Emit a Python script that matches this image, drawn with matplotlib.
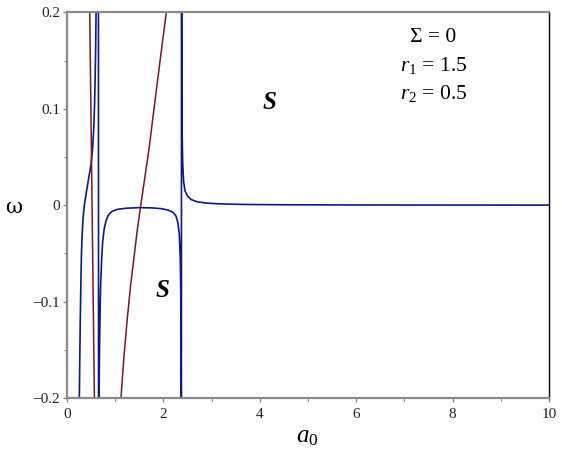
import matplotlib
matplotlib.use("Agg")
import matplotlib.pyplot as plt
import numpy as np

plt.rcParams['font.family'] = ['Liberation Serif', 'DejaVu Serif']
plt.rcParams['mathtext.fontset'] = 'custom'
plt.rcParams['mathtext.rm'] = 'Liberation Serif'
plt.rcParams['mathtext.it'] = 'Liberation Serif:italic'
plt.rcParams['mathtext.bf'] = 'Liberation Serif:bold'

# ---- data ----
# blue branch: left rising curve -> pole near a0=0.655 -> inverted U -> pole near 2.375 -> decaying tail
blueA_a = [0.256, 0.265, 0.275, 0.288, 0.30, 0.315, 0.335, 0.36, 0.40, 0.45, 0.50,
           0.53, 0.555, 0.572, 0.585, 0.595, 0.603, 0.62, 0.652]
blueA_w = [-0.2, -0.16, -0.12, -0.08, -0.05, -0.03, -0.012, 0.0, 0.013, 0.028, 0.043,
           0.058, 0.08, 0.105, 0.135, 0.165, 0.2, 0.3, 0.3]
blueB_a = [0.655, 0.665, 0.672, 0.68, 0.69, 0.70, 0.72, 0.74, 0.77, 0.81, 0.86, 0.93,
           1.05, 1.25, 1.5, 1.75, 1.95, 2.1, 2.2, 2.26, 2.30, 2.33, 2.35, 2.36, 2.366,
           2.37, 2.373]
blueB_w = [-0.3, -0.2, -0.16, -0.13, -0.1, -0.08, -0.055, -0.038, -0.025, -0.016,
           -0.010, -0.0065, -0.0042, -0.003, -0.0025, -0.0027, -0.0035, -0.005, -0.0075,
           -0.011, -0.018, -0.03, -0.055, -0.09, -0.14, -0.2, -0.3]
blueC_a = [2.376, 2.381, 2.385, 2.39, 2.40, 2.42, 2.45, 2.5, 2.58, 2.7, 2.9, 3.2, 3.7,
           4.5, 6.0, 8.0, 10.0]
blueC_w = [0.3, 0.2, 0.11, 0.073, 0.044, 0.024, 0.0147, 0.0095, 0.0058, 0.0036, 0.0022,
           0.0014, 0.0008, 0.0005, 0.0003, 0.0002, 0.00015]
# red branches
red1_a = [0.472, 0.52, 0.568]
red1_w = [0.2, 0.0, -0.2]
red2_a = [1.12, 1.18, 1.25, 1.32, 1.40, 1.46, 1.53, 1.61, 1.70, 1.79, 1.88, 1.97, 2.06]
red2_w = [-0.2, -0.158, -0.118, -0.083, -0.05, -0.025, 0.0, 0.027, 0.058, 0.094, 0.13,
          0.165, 0.2]

x_ticks = [0, 2, 4, 6, 8, 10]
y_ticks = [-0.2, -0.1, 0, 0.1, 0.2]
y_ticklabels = ['\u22120.2', '\u22120.1', '0', '0.1', '0.2']

blue = '#0b1a80'
red = '#7d1426'
gray = '#8a8a8a'

fig = plt.figure(figsize=(5.62, 4.57), dpi=100)
ax = fig.add_axes([67/562, 1 - 398/457, (549-67)/562, (398-12.5)/457])

blue_a = blueA_a + blueB_a + blueC_a
blue_w = blueA_w + blueB_w + blueC_w
ax.plot(blue_a, blue_w, color=blue, lw=1.2, solid_joinstyle='round')
for a, w in [(red1_a, red1_w), (red2_a, red2_w)]:
    ax.plot(a, w, color=red, lw=1.1, solid_joinstyle='round')

ax.set_xlim(0, 10)
ax.set_ylim(-0.2, 0.2)
ax.set_xticks(x_ticks)
ax.set_xticklabels([str(t) for t in x_ticks])
ax.set_xticks(np.arange(1, 10, 2), minor=True)
ax.set_yticks(y_ticks)
ax.set_yticklabels(y_ticklabels)
ax.set_yticks([-0.15, -0.05, 0.05, 0.15], minor=True)

ax.tick_params(which='both', direction='out', color=gray, labelsize=11,
               labelcolor='#222222')
ax.tick_params(which='major', length=3, width=1)
ax.tick_params(which='minor', length=2.5, width=0.8)
ax.tick_params(axis='x', pad=4)
ax.tick_params(axis='y', pad=2)

for s in ['left', 'bottom', 'top']:
    ax.spines[s].set_color(gray)
    ax.spines[s].set_linewidth(1.6)
ax.spines['right'].set_color('black')
ax.spines['right'].set_linewidth(1.0)

fig.text(14/562, 1 - 207/457, '\u03c9', fontsize=15, ha='center', va='center',
         family='DejaVu Serif')
fig.text(307/562, 1 - 437/457, r'$a_0$', fontsize=18, ha='center', va='center')

ax.text(4.2, 0.107, 'S', fontsize=18, fontweight='bold', style='italic',
        ha='center', va='center')
ax.text(1.99, -0.088, 'S', fontsize=18, fontweight='bold', style='italic',
        ha='center', va='center')

ax.text(7.6, 0.174, '\u03a3 = 0', fontsize=15.5, ha='center', va='center')
ax.text(7.6, 0.145, r'$r_1$ = 1.5', fontsize=15.5, ha='center', va='center')
ax.text(7.6, 0.116, r'$r_2$ = 0.5', fontsize=15.5, ha='center', va='center')

fig.savefig('out.png', dpi=100)
